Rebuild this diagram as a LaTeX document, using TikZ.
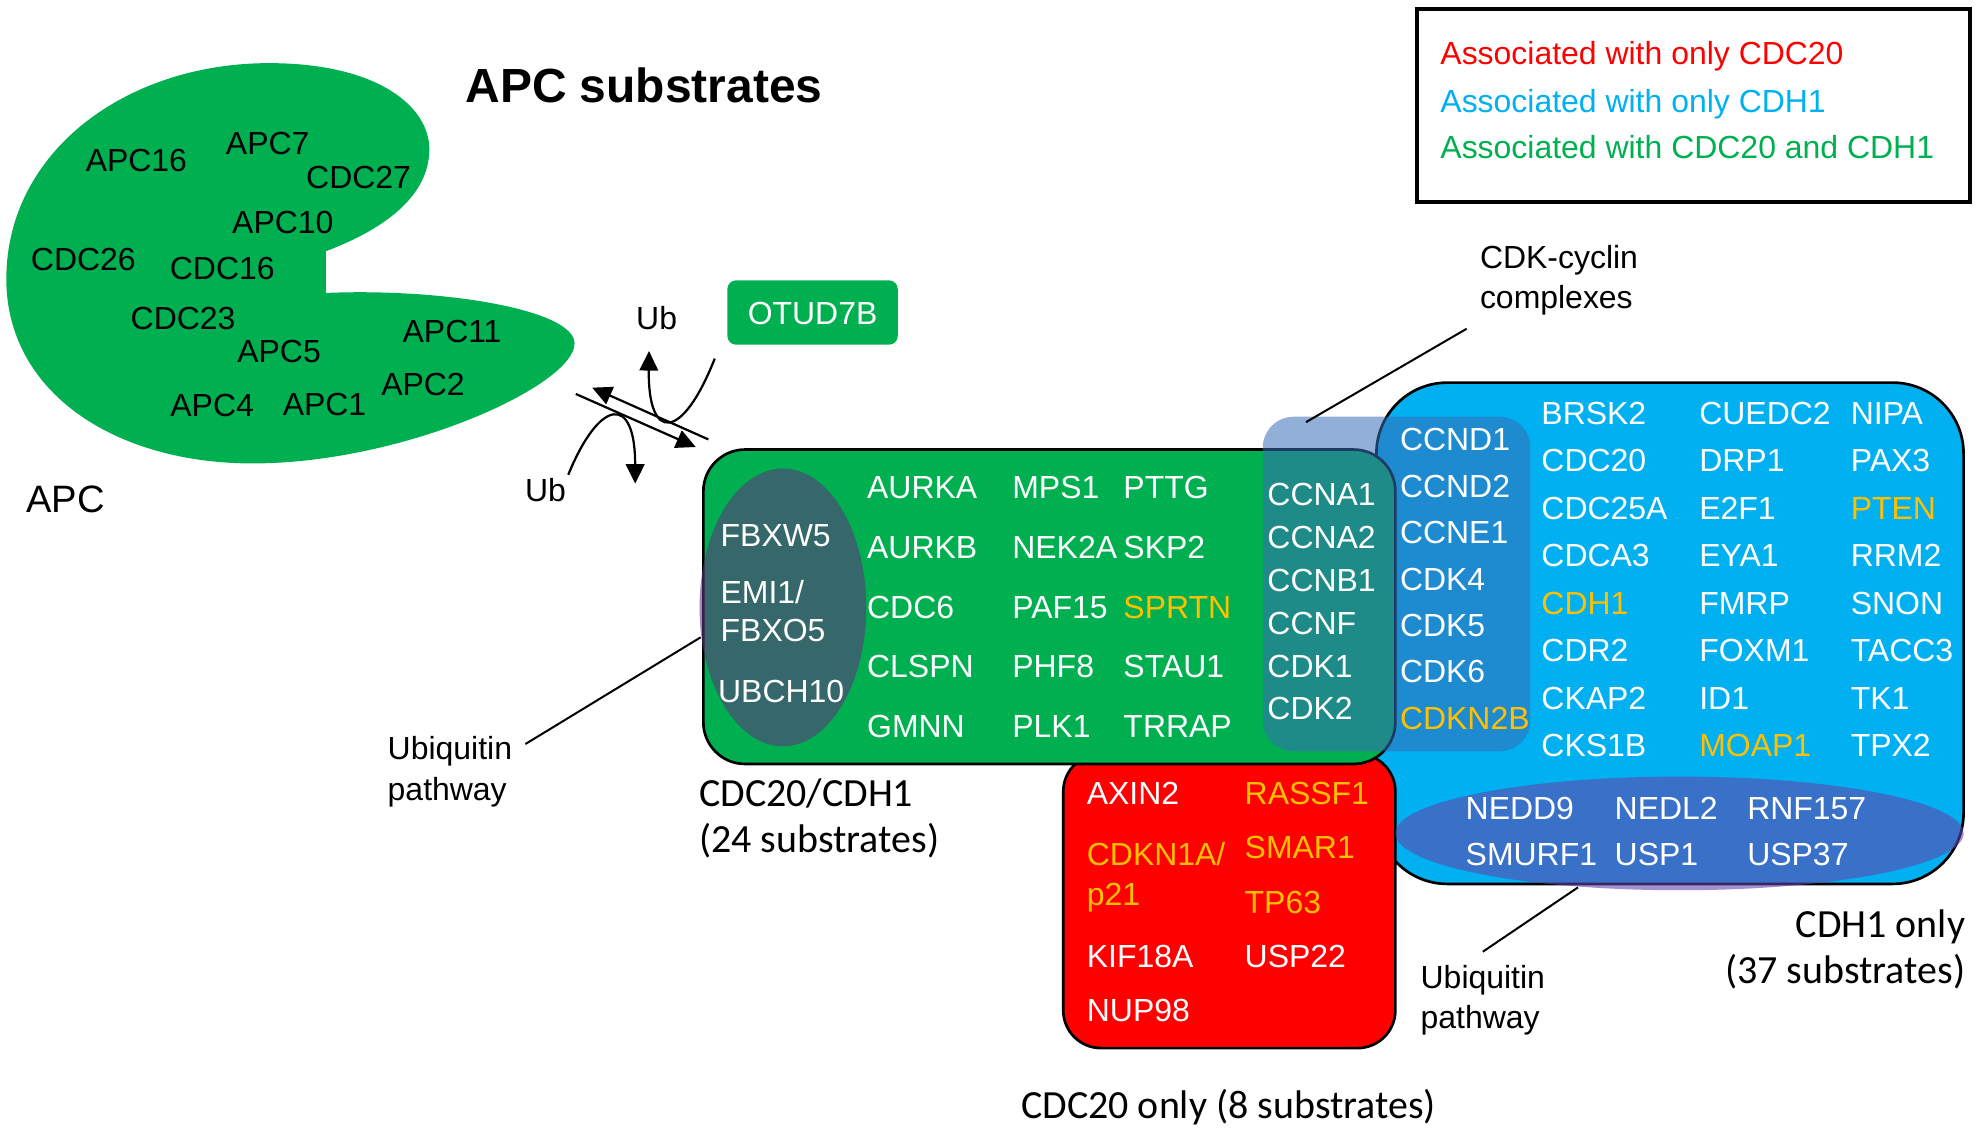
\documentclass[tikz,border=0pt]{standalone}
\usepackage{fontspec}
\setmainfont{Liberation Sans}
\newfontfamily\calibri{Carlito}
\usetikzlibrary{arrows.meta,positioning,shapes.geometric}
\definecolor{apcgreen}{HTML}{00B050}
\definecolor{cdhblue}{HTML}{00B0F0}
\definecolor{gold}{HTML}{FFC000}
\definecolor{cyclin}{RGB}{55,109,182}
\definecolor{ubpurple}{RGB}{93,54,127}
\definecolor{ubviolet}{RGB}{98,68,173}

\begin{document}
\begin{tikzpicture}[x=0.1mm,y=-0.1mm,
  font=\fontsize{7.2}{9}\selectfont,
  gene/.style={anchor=west,inner sep=0pt,text=white,text height=5.2pt,text depth=0pt},
  hit/.style={gene,text=gold},
  sub/.style={inner sep=0pt,text height=5.2pt,text depth=0pt},
  legtext/.style={sub,anchor=west},
  setbox/.style={draw=black,line width=0.6pt,inner sep=0pt},
  ubell/.style={ellipse,inner sep=0pt,fill opacity=0.59},
  note/.style={align=left,inner sep=0pt,outer sep=3pt,anchor=west,
    font=\fontsize{7.2}{9.1}\selectfont},
  tally/.style={font=\calibri\fontsize{9}{10.5}\selectfont,inner sep=0pt},
  lead/.style={line width=0.45pt},
  ubarrow/.style={-{Triangle[length=4.4pt,width=4.2pt]},line width=0.5pt}
]
\useasboundingbox (0,0) rectangle (1568,900);

% the APC itself
\fill[apcgreen] (258,199) -- (258,232)
  .. controls (350,228) and (455,245) .. (455,272)
  .. controls (455,305) and (320,367) .. (200,367)
  .. controls (90,367) and (5,310) .. (5,221)
  .. controls (5,120) and (100,50) .. (213,50)
  .. controls (300,50) and (340,85) .. (340,118)
  .. controls (340,160) and (295,185) .. (258,199) -- cycle;
\foreach \g/\x/\y in {APC16/108/127,APC7/212/113,CDC27/284/140,APC10/224/176,
    CDC26/66/205,CDC16/176/212,CDC23/145/252,APC5/221/278,APC11/358/262,
    APC2/335/304,APC4/168/321,APC1/257/320}
  \node[sub] (apc-\g) at (\x,\y) {\g};
\node[sub,font=\fontsize{8.6}{10}\selectfont] (apc) at (52,397) {APC};
\node[inner sep=0pt,font=\bfseries\fontsize{10.8}{13}\selectfont] (title) at (510,68) {APC substrates};

% legend
\node[draw=black,line width=0.8pt,minimum width=43.8mm,minimum height=15.3mm] (legend) at (1341,83.5) {};
\node[legtext,text=red] (leg-cdc) at (1140,42) {Associated with only CDC20};
\node[legtext,text=cdhblue] (leg-cdh) at (1140,80) {Associated with only CDH1};
\node[legtext,text=apcgreen] (leg-both) at (1140,116) {Associated with CDC20 and CDH1};

% ubiquitination / deubiquitination
\node[sub] (ub-in) at (520,252) {Ub};
\node[sub] (ub-out) at (432,388) {Ub};
\coordinate (fwd-a) at (561,348);
\coordinate (fwd-b) at (469,307);
\coordinate (rev-a) at (456,312);
\coordinate (rev-b) at (551,354);
\coordinate (dub-a) at (566,284);
\coordinate (dub-b) at (514,278);
\coordinate (ubq-a) at (450,376);
\coordinate (ubq-b) at (503,383);
\draw[ubarrow] (fwd-a) -- (fwd-b);
\draw[ubarrow] (rev-a) -- (rev-b);
\draw[ubarrow] (dub-a) .. controls (540,350) and (513,350) .. (dub-b);
\draw[ubarrow] (ubq-a) .. controls (475,315) and (503,312) .. (ubq-b);
\node[fill=apcgreen,rounded corners=2pt,inner sep=0pt,minimum width=13.5mm,minimum height=5.1mm,
  text=white,text height=5.2pt,text depth=0pt] (otud) at (643.5,247.5) {OTUD7B};

% substrate groups
\node[setbox,fill=cdhblue,rounded corners=16pt,minimum width=46.5mm,minimum height=39.7mm] (cdh) at (1322.5,501.5) {};
\node[setbox,fill=red,rounded corners=8.5pt,minimum width=26.3mm,minimum height=23.3mm] (cdc) at (973.5,713.5) {};
\node[setbox,fill=apcgreen,rounded corners=9.4pt,minimum width=54.8mm,minimum height=24.9mm] (both) at (831,480.5) {};
\node[fill=cyclin,fill opacity=0.55,rounded corners=7pt,inner sep=0pt,minimum width=21.2mm,minimum height=26.5mm] (cyc) at (1106,462.5) {};
\node[ubell,fill=ubpurple,minimum width=13.2mm,minimum height=22mm] (ub-left) at (620,481) {};
\node[ubell,fill=ubviolet,minimum width=45mm,minimum height=9mm] (ub-bot) at (1330,660) {};

% CDC20/CDH1
\node[gene] (g-FBXW5) at (570,424) {FBXW5};
\node[gene] (g-EMI1) at (570,469) {EMI1/};
\node[gene] (g-FBXO5) at (570,499) {FBXO5};
\node[gene] (g-UBCH10) at (568,547) {UBCH10};
\foreach \g/\c [count=\i from 0] in {AURKA/white,AURKB/white,CDC6/white,CLSPN/white,GMNN/white}
  \node[gene,text=\c] (g-\g) at (686,{386+47.2*\i}) {\g};
\foreach \g/\c [count=\i from 0] in {MPS1/white,NEK2A/white,PAF15/white,PHF8/white,PLK1/white}
  \node[gene,text=\c] (g-\g) at (801,{386+47.2*\i}) {\g};
\foreach \g/\c [count=\i from 0] in {PTTG/white,SKP2/white,SPRTN/gold,STAU1/white,TRRAP/white}
  \node[gene,text=\c] (g-\g) at (889,{386+47.2*\i}) {\g};
\foreach \g/\c [count=\i from 0] in {CCNA1/white,CCNA2/white,CCNB1/white,CCNF/white,CDK1/white,CDK2/white}
  \node[gene,text=\c] (g-\g) at (1003,{391+34*\i}) {\g};

% CDH1 only
\foreach \g/\c [count=\i from 0] in {CCND1/white,CCND2/white,CCNE1/white,CDK4/white,CDK5/white,CDK6/white,CDKN2B/gold}
  \node[gene,text=\c] (g-\g) at (1108,{348+36.7*\i}) {\g};
\foreach \g/\c [count=\i from 0] in {BRSK2/white,CDC20/white,CDC25A/white,CDCA3/white,CDH1/gold,CDR2/white,CKAP2/white,CKS1B/white}
  \node[gene,text=\c] (g-\g) at (1220,{327+37.6*\i}) {\g};
\foreach \g/\c [count=\i from 0] in {CUEDC2/white,DRP1/white,E2F1/white,EYA1/white,FMRP/white,FOXM1/white,ID1/white,MOAP1/gold}
  \node[gene,text=\c] (g-\g) at (1345,{327+37.6*\i}) {\g};
\foreach \g/\c [count=\i from 0] in {NIPA/white,PAX3/white,PTEN/gold,RRM2/white,SNON/white,TACC3/white,TK1/white,TPX2/white}
  \node[gene,text=\c] (g-\g) at (1465,{327+37.6*\i}) {\g};
\foreach \g/\x/\y in {NEDD9/1160/640,NEDL2/1278/640,RNF157/1383/640,
    SMURF1/1160/676,USP1/1278/676,USP37/1383/676}
  \node[gene] (g-\g) at (\x,\y) {\g};

% CDC20 only
\node[gene] (g-AXIN2) at (860,628) {AXIN2};
\node[hit] (g-CDKN1A) at (860,676) {CDKN1A/};
\node[hit] (g-p21) at (860,708) {p21};
\node[gene] (g-KIF18A) at (860,757) {KIF18A};
\node[gene] (g-NUP98) at (860,800) {NUP98};
\foreach \g/\c/\y in {RASSF1/gold/628,SMAR1/gold/671,TP63/gold/714,USP22/white/757}
  \node[gene,text=\c] (g-\g) at (985,\y) {\g};

% callouts and counts
\node[note] (ubl) at (296.5,611) {Ubiquitin\\pathway};
\draw[lead] (ubl.20) -- (ub-left.200);
\node[note] (ubr) at (1114.5,792) {Ubiquitin\\pathway};
\draw[lead] (ubr.north) -- (ub-bot.208);
\node[note] (cdkc) at (1161.5,222) {CDK-cyclin\\complexes};
\draw[lead] (cdkc.south west) -- ([shift={(35,5)}]cyc.north west);
\node[tally,align=left,anchor=west] (both-n) at (553,648) {CDC20/CDH1\\(24 substrates)};
\node[tally,align=right,anchor=east] (cdh-n) at (1557,752) {CDH1 only\\(37 substrates)};
\node[tally] (cdc-n) at (973,877) {CDC20 only (8 substrates)};
\end{tikzpicture}
\end{document}
